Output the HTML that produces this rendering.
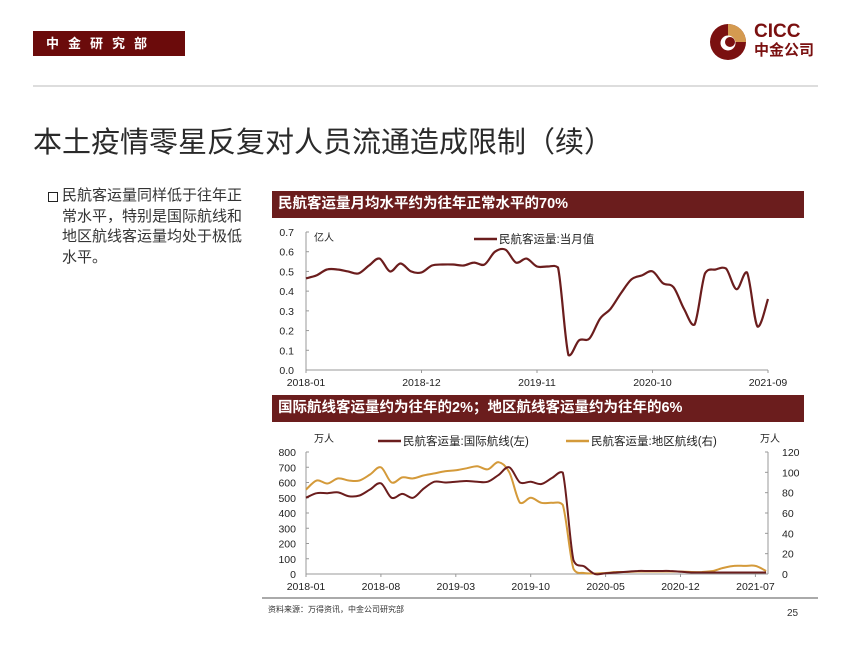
<!DOCTYPE html>
<html><head><meta charset="utf-8"><style>
body{margin:0;width:850px;height:656px;background:#fff;position:relative;overflow:hidden;font-family:"Liberation Sans","Noto Sans CJK SC",sans-serif;color:#222}
.a{position:absolute;white-space:nowrap}
.bar{position:absolute;left:272px;width:532px;height:27px;background:#6b1d1d;color:#fff;font-weight:bold;font-size:14.5px;line-height:27px;padding-left:6px;box-sizing:border-box}
</style></head><body>
<div class="a" style="left:33px;top:31px;width:152px;height:25px;background:#6b0b0b;color:#fff;font-size:13px;font-weight:bold;line-height:25px;letter-spacing:9px;padding-left:13px;box-sizing:border-box">中金研究部</div>
<svg class="a" style="left:708px;top:22px" width="40" height="40" viewBox="0 0 40 40">
<circle cx="20" cy="20" r="18" fill="#7a1010"/><path d="M20 2 A18 18 0 0 1 38 20 L20 20Z" fill="#d49a50"/><circle cx="20" cy="21" r="7.5" fill="#fff"/><circle cx="22" cy="20" r="5" fill="#7a1010"/></svg>
<div class="a" style="left:754px;top:22px;font-size:19px;font-weight:bold;color:#7a1010;line-height:20px">CICC</div>
<div class="a" style="left:754px;top:42px;font-size:15px;font-weight:bold;color:#7a1010;line-height:17px">中金公司</div>
<div class="a" style="left:33px;top:85px;width:785px;height:2px;background:#ddd"></div>
<div class="a" style="left:33px;top:124px;font-size:29px;color:#2a2a2a;line-height:38px">本土疫情零星反复对人员流通造成限制（续）</div>
<div class="a" style="left:48px;top:192px;width:8px;height:8px;border:1.5px solid #222"></div>
<div class="a" style="left:62px;top:186px;font-size:15px;line-height:20.7px;color:#333">民航客运量同样低于往年正<br>常水平，特别是国际航线和<br>地区航线客运量均处于极低<br>水平。</div>
<div class="bar" style="top:191px">民航客运量月均水平约为往年正常水平的70%</div>
<div class="bar" style="top:395px">国际航线客运量约为往年的2%；地区航线客运量约为往年的6%</div>
<svg class="a" style="left:0;top:0" width="850" height="656" id="s" font-family="Liberation Sans, Noto Sans CJK SC, sans-serif" font-size="10.5" fill="#222"></svg>
<div class="a" style="left:262px;top:597px;width:556px;height:2px;background:#aaa"></div>
<div class="a" style="left:268px;top:604px;font-size:8px;color:#333">资料来源：万得资讯，中金公司研究部</div>
<div class="a" style="left:787px;top:608px;font-size:10px;color:#333">25</div>
<script>
const s=document.getElementById('s');let h='';
function cl(v,a,b){const lo=Math.min(a,b)-2,hi=Math.max(a,b)+2;return Math.max(lo,Math.min(hi,v));}
function path(pts){let d='M'+pts[0][0]+','+pts[0][1];for(let i=0;i<pts.length-1;i++){const p0=pts[i-1]||pts[i],p1=pts[i],p2=pts[i+1],p3=pts[i+2]||p2;const c1=[p1[0]+(p2[0]-p0[0])/6,cl(p1[1]+(p2[1]-p0[1])/6,p1[1],p2[1])],c2=[p2[0]-(p3[0]-p1[0])/6,cl(p2[1]-(p3[1]-p1[1])/6,p1[1],p2[1])];d+=`C${c1[0].toFixed(1)},${c1[1].toFixed(1)} ${c2[0].toFixed(1)},${c2[1].toFixed(1)} ${p2[0].toFixed(1)},${p2[1].toFixed(1)}`;}return d;}
const X0=306,X1=768,Y0=370,Y7=232;
h+=`<line x1="${X0}" y1="${Y7}" x2="${X0}" y2="${Y0}" stroke="#999"/><line x1="${X0}" y1="${Y0}" x2="${X1}" y2="${Y0}" stroke="#999"/>`;
for(let i=0;i<=7;i++){const y=Y0-(Y0-Y7)*i/7;h+=`<line x1="${X0}" y1="${y}" x2="${X0+3}" y2="${y}" stroke="#999"/><text x="${X0-12}" y="${y+4}" text-anchor="end">${(i/10).toFixed(1)}</text>`;}
[['2018-01',0],['2018-12',11],['2019-11',22],['2020-10',33],['2021-09',44]].forEach(([t,i])=>{const x=X0+i*10.5;h+=`<line x1="${x}" y1="${Y0}" x2="${x}" y2="${Y0+3}" stroke="#999"/><text x="${x}" y="${Y0+16}" text-anchor="middle">${t}</text>`;});
h+=`<text x="314" y="241" font-size="10">亿人</text><line x1="474" y1="239" x2="497" y2="239" stroke="#6b1d1d" stroke-width="2.5"/><text x="499" y="243" font-size="11.5">民航客运量:当月值</text>`;
const d1=[.465,.48,.51,.51,.50,.49,.53,.565,.50,.54,.50,.495,.53,.535,.535,.53,.545,.535,.60,.61,.545,.565,.525,.525,.52,.075,.15,.16,.26,.31,.39,.46,.48,.50,.44,.42,.31,.23,.49,.51,.515,.41,.495,.22,.36];
h+=`<path d="${path(d1.map((v,i)=>[X0+i*10.5,Y0-v/0.7*(Y0-Y7)]))}" fill="none" stroke="#6b1d1d" stroke-width="2.2"/>`;
const B=574,T=452,L=306,R=768;
h+=`<line x1="${L}" y1="${T}" x2="${L}" y2="${B}" stroke="#999"/><line x1="${L}" y1="${B}" x2="${R}" y2="${B}" stroke="#999"/><line x1="${R}" y1="${T}" x2="${R}" y2="${B}" stroke="#999"/>`;
for(let i=0;i<=8;i++){const y=B-(B-T)*i/8;h+=`<text x="${L-10}" y="${y+4}" text-anchor="end">${i*100}</text><line x1="${L}" y1="${y}" x2="${L+3}" y2="${y}" stroke="#999"/>`;}
for(let i=0;i<=6;i++){const y=B-(B-T)*i/6;h+=`<text x="${R+14}" y="${y+4}">${i*20}</text><line x1="${R}" y1="${y}" x2="${R-3}" y2="${y}" stroke="#999"/>`;}
[['2018-01',0],['2018-08',7],['2019-03',14],['2019-10',21],['2020-05',28],['2020-12',35],['2021-07',42]].forEach(([t,i])=>{const x=L+i*10.7;h+=`<line x1="${x}" y1="${B}" x2="${x}" y2="${B+3}" stroke="#999"/><text x="${x}" y="${B+16}" text-anchor="middle">${t}</text>`;});
h+=`<text x="314" y="442" font-size="10">万人</text><text x="760" y="442" font-size="10">万人</text>`;
h+=`<line x1="378" y1="441" x2="401" y2="441" stroke="#6b1d1d" stroke-width="2.5"/><text x="403" y="445" font-size="11.5">民航客运量:国际航线(左)</text>`;
h+=`<line x1="566" y1="441" x2="589" y2="441" stroke="#d49a3a" stroke-width="2.5"/><text x="591" y="445" font-size="11.5">民航客运量:地区航线(右)</text>`;
const g=[500,530,530,535,510,515,555,595,500,525,500,560,605,600,605,610,605,605,650,700,600,605,590,630,665,90,50,0,5,10,15,20,20,20,20,15,10,10,10,10,10,10,10,10];
const r=[83,92,89,94,92,92,98,105,90,95,94,97,99,101,102,104,106,103,110,100,70,75,70,70,68,5,1,.5,1,2,2,2.5,2.5,2.5,2.5,2.5,2,2,3,6,8,8,8,3];
h+=`<path d="${path(r.map((v,i)=>[L+i*10.7,B-v/120*(B-T)]))}" fill="none" stroke="#d49a3a" stroke-width="2"/>`;
h+=`<path d="${path(g.map((v,i)=>[L+i*10.7,B-v/800*(B-T)]))}" fill="none" stroke="#6b1d1d" stroke-width="2"/>`;
s.innerHTML=h;
</script>
</body></html>
